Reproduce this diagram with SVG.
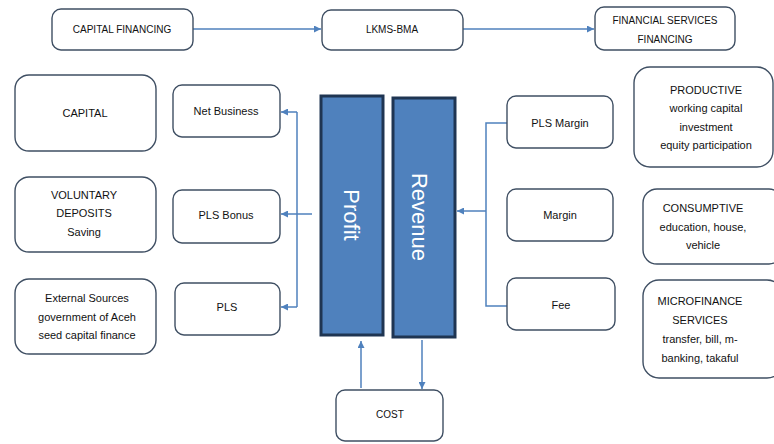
<svg xmlns="http://www.w3.org/2000/svg" width="774" height="444" viewBox="0 0 774 444">
<defs>
<marker id="ah" viewBox="0 0 10 10" refX="10" refY="5" markerWidth="7" markerHeight="7" markerUnits="userSpaceOnUse" orient="auto">
<path d="M0,0 L10,5 L0,10 z" fill="#4f81bd"/>
</marker>
<style>
.box{fill:#fff;stroke:#3f4f63;stroke-width:1.4}
.bar{fill:#4f81bd;stroke:#1f3552;stroke-width:3}
.t{font-family:"Liberation Sans",Arial,sans-serif;font-size:11px;fill:#111;text-anchor:middle}
.s{font-size:10px}
.bt{font-family:"Liberation Sans",Arial,sans-serif;font-size:22px;fill:#fff;text-anchor:middle}
.c{fill:none;stroke:#4f81bd;stroke-width:1.5}
</style>
</defs>
<rect width="774" height="444" fill="#fff"/>
<g id="connectors">
<line class="c" x1="193" y1="29" x2="321" y2="29" marker-end="url(#ah)"/>
<line class="c" x1="463" y1="29" x2="594" y2="29" marker-end="url(#ah)"/>
<polyline class="c" points="297,112 297,307"/>
<line class="c" x1="297" y1="112" x2="281" y2="112" marker-end="url(#ah)"/>
<line class="c" x1="297" y1="307" x2="281" y2="307" marker-end="url(#ah)"/>
<line class="c" x1="312" y1="214" x2="281" y2="214" marker-end="url(#ah)"/>
<polyline class="c" points="507,123 486,123 486,306 507,306"/>
<line class="c" x1="486" y1="211" x2="457" y2="211" marker-end="url(#ah)"/>
<line class="c" x1="361" y1="388" x2="361" y2="341" marker-end="url(#ah)"/>
<line class="c" x1="422" y1="340" x2="422" y2="389" marker-end="url(#ah)"/>
</g>
<g id="capital-financing"><rect class="box" x="52" y="9" width="141" height="41" rx="9"/><text class="t s" x="122" y="33">CAPITAL FINANCING</text></g>
<g id="lkms-bma"><rect class="box" x="322" y="10" width="141" height="40" rx="9"/><text class="t s" x="392" y="33">LKMS-BMA</text></g>
<g id="financial-services"><rect class="box" x="595" y="7" width="140" height="43" rx="9"/><text class="t s" x="665" y="24">FINANCIAL SERVICES</text><text class="t s" x="665" y="43">FINANCING</text></g>
<g id="capital"><rect class="box" x="15" y="75" width="141" height="76" rx="14"/><text class="t" x="85" y="117">CAPITAL</text></g>
<g id="voluntary"><rect class="box" x="15" y="177" width="141" height="75" rx="14"/><text class="t" x="84" y="199">VOLUNTARY</text><text class="t" x="84" y="217">DEPOSITS</text><text class="t" x="84" y="236">Saving</text></g>
<g id="external"><rect class="box" x="15" y="279" width="141" height="75" rx="14"/><text class="t" x="87" y="302">External Sources</text><text class="t" x="87" y="321">government of Aceh</text><text class="t" x="87" y="339">seed capital finance</text></g>
<g id="net-business"><rect class="box" x="173" y="85" width="107" height="52" rx="9"/><text class="t" x="226" y="115">Net Business</text></g>
<g id="pls-bonus"><rect class="box" x="173" y="190" width="107" height="53" rx="9"/><text class="t" x="226" y="219">PLS Bonus</text></g>
<g id="pls"><rect class="box" x="175" y="283" width="105" height="52" rx="9"/><text class="t" x="227" y="311">PLS</text></g>
<g id="profit"><rect class="bar" x="321" y="96" width="62" height="239"/><text class="bt" transform="translate(344,215) rotate(90)">Profit</text></g>
<g id="revenue"><rect class="bar" x="393" y="98" width="62" height="239"/><text class="bt" transform="translate(412,217) rotate(90)">Revenue</text></g>
<g id="cost"><rect class="box" x="336" y="390" width="107" height="51" rx="9"/><text class="t s" x="390" y="418">COST</text></g>
<g id="pls-margin"><rect class="box" x="507" y="96" width="106" height="52" rx="9"/><text class="t" x="560" y="127">PLS Margin</text></g>
<g id="margin"><rect class="box" x="507" y="189" width="106" height="52" rx="9"/><text class="t" x="560" y="219">Margin</text></g>
<g id="fee"><rect class="box" x="507" y="278" width="108" height="52" rx="9"/><text class="t" x="561" y="309">Fee</text></g>
<g id="productive"><rect class="box" x="634" y="67" width="139" height="100" rx="16"/><text class="t" x="706" y="94">PRODUCTIVE</text><text class="t" x="706" y="112">working capital</text><text class="t" x="706" y="131">investment</text><text class="t" x="706" y="149">equity participation</text></g>
<g id="consumptive"><rect class="box" x="643" y="189" width="140" height="75" rx="14"/><text class="t" x="703" y="212">CONSUMPTIVE</text><text class="t" x="703" y="231">education, house,</text><text class="t" x="703" y="249">vehicle</text></g>
<g id="microfinance"><rect class="box" x="643" y="280" width="140" height="98" rx="16"/><text class="t" x="700" y="305">MICROFINANCE</text><text class="t" x="700" y="324">SERVICES</text><text class="t" x="700" y="343">transfer, bill, m-</text><text class="t" x="700" y="362">banking, takaful</text></g>
</svg>
